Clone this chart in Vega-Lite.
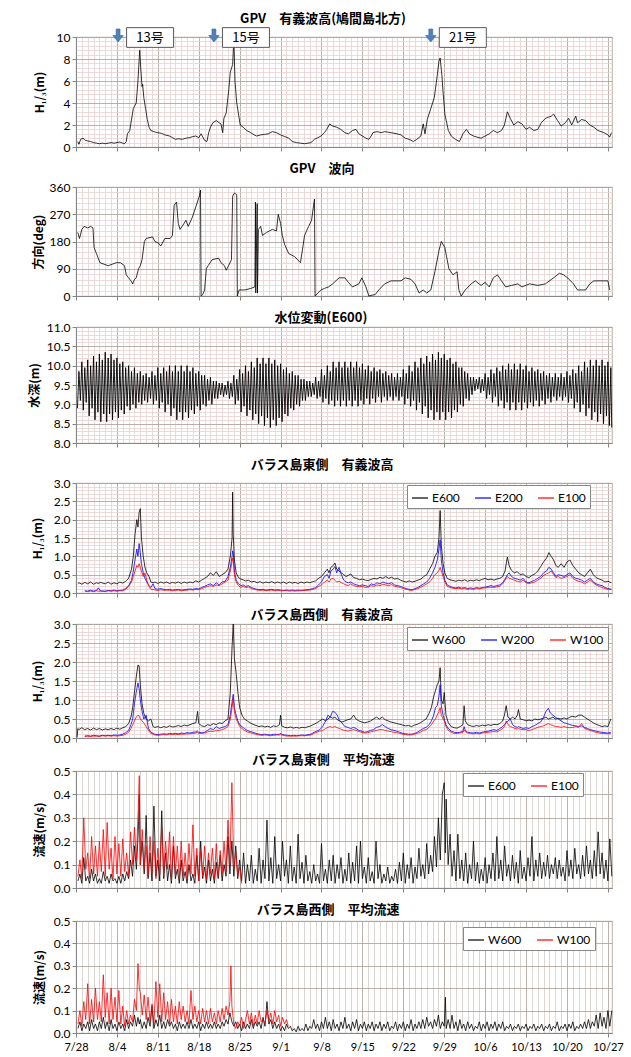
{
"$schema":"https://vega.github.io/schema/vega-lite/v6.json",
"background":"#ffffff",
"padding":{"left":27,"top":12,"right":5,"bottom":0},
"spacing":8,
"config":{
 "view":{"stroke":"#a89e96","strokeWidth":0.8},
 "title":{"font":"Noto Sans CJK JP","fontSize":13,"fontWeight":"bold","color":"#000","frame":"bounds","anchor":"middle"},
 "axis":{"labelFont":"Lato","labelFontSize":12,"labelColor":"#000","titleFont":"Noto Sans CJK JP","titleFontSize":12,"titleFontWeight":"bold","titleColor":"#000","domainColor":"#868686","tickColor":"#868686","gridWidth":0.8,"labelOverlap":false,"labelFlush":false},
 "legend":{"labelFont":"Lato","labelFontSize":12,"labelColor":"#000","symbolType":"stroke","symbolSize":256,"symbolStrokeWidth":1.2,"fillColor":"#ffffff","strokeColor":"#888888","padding":4,"columnPadding":12,"labelOffset":3,"direction":"horizontal","orient":"none","title":null}
},
"resolve":{"scale":{"x":"independent","y":"independent","color":"independent"},"legend":{"color":"independent"}},
"datasets":{
"ty":[{"d":7.2,"n":"13号"},{"d":23.6,"n":"15号"},{"d":60.7,"n":"21号"}],
"h":[{"d":0.3,"v":0.5},{"d":0.5,"v":0.25},{"d":0.8,"v":0.7},{"d":1.2,"v":0.8},{"d":1.6,"v":0.6},{"d":2,"v":0.55},{"d":2.5,"v":0.5},{"d":3,"v":0.4},{"d":3.5,"v":0.35},{"d":4,"v":0.3},{"d":4.5,"v":0.35},{"d":5,"v":0.3},{"d":5.5,"v":0.35},{"d":6,"v":0.4},{"d":6.5,"v":0.35},{"d":7,"v":0.4},{"d":7.5,"v":0.45},{"d":8,"v":0.35},{"d":8.3,"v":0.3},{"d":8.6,"v":0.5},{"d":8.8,"v":1.2},{"d":9.2,"v":1.5},{"d":9.8,"v":3.5},{"d":10.3,"v":4},{"d":10.6,"v":6},{"d":10.9,"v":8.8},{"d":11.1,"v":7},{"d":11.3,"v":5.5},{"d":11.4,"v":5.7},{"d":11.6,"v":4.5},{"d":11.9,"v":3.5},{"d":12.2,"v":2.5},{"d":12.5,"v":1.8},{"d":12.8,"v":1.5},{"d":13.3,"v":1.4},{"d":14,"v":1.3},{"d":14.6,"v":1.25},{"d":15.2,"v":1.1},{"d":16,"v":1},{"d":16.5,"v":0.85},{"d":17,"v":0.7},{"d":17.6,"v":0.75},{"d":18.2,"v":0.7},{"d":18.8,"v":0.8},{"d":19.4,"v":0.85},{"d":20,"v":0.95},{"d":20.5,"v":1},{"d":21,"v":0.85},{"d":21.4,"v":1.2},{"d":21.7,"v":0.9},{"d":22,"v":0.6},{"d":22.4,"v":0.5},{"d":22.7,"v":1.3},{"d":23,"v":1.8},{"d":23.4,"v":2.2},{"d":24,"v":2.4},{"d":24.5,"v":2.2},{"d":24.8,"v":2.1},{"d":25.1,"v":1.3},{"d":25.3,"v":2.6},{"d":25.7,"v":3.1},{"d":26.1,"v":5},{"d":26.4,"v":6.8},{"d":26.8,"v":7.5},{"d":27,"v":9.8},{"d":27.2,"v":6},{"d":27.5,"v":4},{"d":27.8,"v":3},{"d":28.1,"v":2},{"d":28.6,"v":1.8},{"d":29.2,"v":1.5},{"d":29.9,"v":1.3},{"d":30.5,"v":1.1},{"d":30.9,"v":1},{"d":31.6,"v":1.1},{"d":32.3,"v":1.15},{"d":32.9,"v":1.2},{"d":33.6,"v":1.4},{"d":34.3,"v":1.3},{"d":35,"v":1.1},{"d":35.7,"v":0.95},{"d":36.4,"v":0.8},{"d":37,"v":0.5},{"d":37.7,"v":0.4},{"d":38.4,"v":0.35},{"d":39.1,"v":0.3},{"d":39.7,"v":0.35},{"d":40.2,"v":0.4},{"d":40.8,"v":0.7},{"d":41.4,"v":0.85},{"d":41.9,"v":1},{"d":42.5,"v":1.3},{"d":42.9,"v":1.6},{"d":43.4,"v":2.1},{"d":43.9,"v":1.9},{"d":44.6,"v":1.8},{"d":45.3,"v":1.6},{"d":46,"v":1.3},{"d":46.6,"v":1.2},{"d":47.3,"v":1.5},{"d":47.9,"v":1.6},{"d":48.4,"v":1.2},{"d":49,"v":1},{"d":49.6,"v":0.8},{"d":50.1,"v":0.7},{"d":50.5,"v":1},{"d":50.8,"v":1.3},{"d":51.5,"v":1.4},{"d":52.2,"v":1.3},{"d":52.8,"v":1.4},{"d":53.4,"v":1.35},{"d":53.9,"v":1.3},{"d":54.9,"v":1.2},{"d":55.6,"v":1.1},{"d":56.3,"v":0.8},{"d":57,"v":0.7},{"d":57.7,"v":0.5},{"d":58.3,"v":0.7},{"d":59,"v":1},{"d":59.4,"v":2.1},{"d":59.7,"v":1.2},{"d":60.1,"v":2.5},{"d":60.7,"v":3.5},{"d":61.3,"v":4.5},{"d":61.8,"v":6.5},{"d":62.1,"v":7.8},{"d":62.3,"v":8.1},{"d":62.6,"v":6.5},{"d":62.8,"v":5},{"d":63.1,"v":3},{"d":63.7,"v":1.5},{"d":64.2,"v":1},{"d":64.9,"v":0.7},{"d":65.6,"v":0.5},{"d":66.2,"v":1.2},{"d":66.8,"v":1.6},{"d":67.3,"v":1.2},{"d":68,"v":1},{"d":68.6,"v":0.9},{"d":69.3,"v":0.8},{"d":70,"v":1},{"d":70.7,"v":1.2},{"d":71.4,"v":1.5},{"d":72.1,"v":1.3},{"d":72.8,"v":1.5},{"d":73.3,"v":2},{"d":73.8,"v":3.2},{"d":74.3,"v":2.6},{"d":74.9,"v":2},{"d":75.6,"v":2.3},{"d":76.3,"v":2.1},{"d":77,"v":1.6},{"d":77.6,"v":1.8},{"d":78.3,"v":1.5},{"d":79,"v":1.6},{"d":79.6,"v":2.2},{"d":80.3,"v":2.6},{"d":80.8,"v":2.7},{"d":81.3,"v":2.8},{"d":81.7,"v":3},{"d":82.4,"v":2.4},{"d":83,"v":1.9},{"d":83.7,"v":2.2},{"d":84.3,"v":2.6},{"d":84.8,"v":2},{"d":85.5,"v":2.8},{"d":85.8,"v":2.2},{"d":86.5,"v":2.5},{"d":87.2,"v":2.4},{"d":87.9,"v":2},{"d":88.6,"v":1.8},{"d":89.3,"v":1.5},{"d":90.3,"v":1.3},{"d":91,"v":1.1},{"d":91.3,"v":0.9},{"d":91.6,"v":1.3}],
"w":[{"d":0.3,"v":210},{"d":0.6,"v":190},{"d":1,"v":220},{"d":1.4,"v":230},{"d":2,"v":225},{"d":2.5,"v":230},{"d":2.9,"v":225},{"d":3.1,"v":160},{"d":3.5,"v":140},{"d":4.1,"v":110},{"d":4.8,"v":105},{"d":5.5,"v":100},{"d":6.2,"v":105},{"d":6.9,"v":110},{"d":7.6,"v":110},{"d":8.3,"v":100},{"d":8.6,"v":70},{"d":9,"v":60},{"d":9.4,"v":50},{"d":9.7,"v":40},{"d":10,"v":55},{"d":10.3,"v":60},{"d":10.7,"v":90},{"d":11,"v":100},{"d":11.3,"v":120},{"d":11.7,"v":180},{"d":12,"v":190},{"d":13.1,"v":195},{"d":13.5,"v":180},{"d":14.1,"v":175},{"d":14.5,"v":165},{"d":15.2,"v":190},{"d":16.1,"v":190},{"d":16.5,"v":200},{"d":16.8,"v":300},{"d":17.2,"v":310},{"d":17.5,"v":240},{"d":17.8,"v":220},{"d":18.5,"v":240},{"d":18.8,"v":250},{"d":19.2,"v":230},{"d":19.9,"v":260},{"d":20.6,"v":300},{"d":21.1,"v":330},{"d":21.3,"v":350},{"d":21.4,"v":0},{"d":21.7,"v":5},{"d":22,"v":20},{"d":22.3,"v":90},{"d":22.6,"v":100},{"d":23.3,"v":120},{"d":24.4,"v":125},{"d":24.8,"v":110},{"d":25.4,"v":100},{"d":25.7,"v":85},{"d":26.1,"v":100},{"d":26.6,"v":120},{"d":26.8,"v":330},{"d":27.1,"v":340},{"d":27.5,"v":335},{"d":27.6,"v":0},{"d":27.9,"v":20},{"d":28.9,"v":20},{"d":29.9,"v":25},{"d":30.6,"v":30},{"d":30.7,"v":310},{"d":30.75,"v":10},{"d":31,"v":305},{"d":31.05,"v":10},{"d":31.2,"v":220},{"d":31.6,"v":230},{"d":31.9,"v":200},{"d":32.6,"v":210},{"d":33.6,"v":220},{"d":34.3,"v":215},{"d":34.6,"v":270},{"d":35,"v":240},{"d":35.3,"v":200},{"d":35.7,"v":170},{"d":36.4,"v":140},{"d":37.4,"v":130},{"d":38.4,"v":110},{"d":38.8,"v":160},{"d":39.1,"v":200},{"d":39.8,"v":230},{"d":40.3,"v":250},{"d":40.8,"v":320},{"d":40.9,"v":0},{"d":41.4,"v":10},{"d":41.9,"v":20},{"d":42.5,"v":25},{"d":43.2,"v":30},{"d":43.9,"v":40},{"d":45,"v":60},{"d":46,"v":60},{"d":46.6,"v":45},{"d":47.3,"v":30},{"d":48.4,"v":40},{"d":48.9,"v":60},{"d":49.6,"v":30},{"d":50.1,"v":0},{"d":51.2,"v":5},{"d":51.8,"v":20},{"d":52.8,"v":40},{"d":53.9,"v":50},{"d":55.6,"v":50},{"d":56.3,"v":60},{"d":57.3,"v":55},{"d":58,"v":40},{"d":58.7,"v":10},{"d":59.4,"v":20},{"d":60,"v":10},{"d":60.7,"v":20},{"d":61.4,"v":80},{"d":62.1,"v":150},{"d":62.5,"v":180},{"d":63.1,"v":160},{"d":63.8,"v":90},{"d":64.5,"v":70},{"d":65.2,"v":80},{"d":65.5,"v":20},{"d":65.9,"v":0},{"d":66.6,"v":20},{"d":67.6,"v":40},{"d":68.3,"v":50},{"d":69.3,"v":35},{"d":70,"v":45},{"d":70.7,"v":30},{"d":71.4,"v":60},{"d":72.1,"v":70},{"d":72.8,"v":50},{"d":73.5,"v":30},{"d":74.5,"v":35},{"d":75.6,"v":40},{"d":76.3,"v":30},{"d":77.6,"v":40},{"d":79,"v":35},{"d":80.3,"v":40},{"d":81.7,"v":60},{"d":82.7,"v":75},{"d":83.4,"v":70},{"d":84.1,"v":60},{"d":85.1,"v":40},{"d":85.8,"v":20},{"d":87.2,"v":20},{"d":87.9,"v":40},{"d":88.6,"v":50},{"d":91,"v":50},{"d":91.3,"v":20}],
"t":[{"d":0.25,"v":8.9},{"d":0.5,"v":9.85},{"d":0.75,"v":9.1},{"d":1,"v":10.1},{"d":1.25,"v":8.85},{"d":1.5,"v":9.95},{"d":1.75,"v":9.05},{"d":2,"v":10.15},{"d":2.25,"v":8.7},{"d":2.5,"v":10},{"d":2.75,"v":8.9},{"d":3,"v":10.25},{"d":3.25,"v":8.6},{"d":3.5,"v":10.1},{"d":3.75,"v":8.8},{"d":4,"v":10.3},{"d":4.25,"v":8.55},{"d":4.5,"v":10.15},{"d":4.75,"v":8.75},{"d":5,"v":10.35},{"d":5.25,"v":8.55},{"d":5.5,"v":10.2},{"d":5.75,"v":8.75},{"d":6,"v":10.3},{"d":6.25,"v":8.6},{"d":6.5,"v":10.15},{"d":6.75,"v":8.8},{"d":7,"v":10.2},{"d":7.25,"v":8.65},{"d":7.5,"v":10.05},{"d":7.75,"v":8.85},{"d":8,"v":10.1},{"d":8.25,"v":8.75},{"d":8.5,"v":9.95},{"d":8.75,"v":8.95},{"d":9,"v":10},{"d":9.25,"v":8.85},{"d":9.5,"v":9.85},{"d":9.75,"v":9},{"d":10,"v":9.95},{"d":10.25,"v":8.9},{"d":10.5,"v":9.8},{"d":10.75,"v":9.05},{"d":11,"v":9.85},{"d":11.25,"v":9},{"d":11.5,"v":9.75},{"d":11.75,"v":9.1},{"d":12,"v":9.8},{"d":12.25,"v":9.05},{"d":12.5,"v":9.7},{"d":12.75,"v":9.15},{"d":13,"v":9.85},{"d":13.25,"v":9},{"d":13.5,"v":9.75},{"d":13.75,"v":9.1},{"d":14,"v":9.95},{"d":14.25,"v":8.9},{"d":14.5,"v":9.8},{"d":14.75,"v":9.05},{"d":15,"v":9.95},{"d":15.25,"v":8.8},{"d":15.5,"v":9.85},{"d":15.75,"v":9},{"d":16,"v":10},{"d":16.25,"v":8.7},{"d":16.5,"v":9.85},{"d":16.75,"v":8.9},{"d":17,"v":10},{"d":17.25,"v":8.6},{"d":17.5,"v":9.85},{"d":17.75,"v":8.8},{"d":18,"v":10},{"d":18.25,"v":8.6},{"d":18.5,"v":9.85},{"d":18.75,"v":8.8},{"d":19,"v":10},{"d":19.25,"v":8.65},{"d":19.5,"v":9.85},{"d":19.75,"v":8.85},{"d":20,"v":9.95},{"d":20.25,"v":8.75},{"d":20.5,"v":9.8},{"d":20.75,"v":8.95},{"d":21,"v":9.85},{"d":21.25,"v":8.85},{"d":21.5,"v":9.75},{"d":21.75,"v":9},{"d":22,"v":9.75},{"d":22.25,"v":8.95},{"d":22.5,"v":9.65},{"d":22.75,"v":9.1},{"d":23,"v":9.7},{"d":23.25,"v":9},{"d":23.5,"v":9.6},{"d":23.75,"v":9.15},{"d":24,"v":9.6},{"d":24.25,"v":9.15},{"d":24.5,"v":9.55},{"d":24.75,"v":9.25},{"d":25,"v":9.55},{"d":25.25,"v":9.2},{"d":25.5,"v":9.5},{"d":25.75,"v":9.25},{"d":26,"v":9.6},{"d":26.25,"v":9.15},{"d":26.5,"v":9.55},{"d":26.75,"v":9.2},{"d":27,"v":9.75},{"d":27.25,"v":9},{"d":27.5,"v":9.65},{"d":27.75,"v":9.1},{"d":28,"v":9.9},{"d":28.25,"v":8.8},{"d":28.5,"v":9.8},{"d":28.75,"v":8.95},{"d":29,"v":10},{"d":29.25,"v":8.7},{"d":29.5,"v":9.85},{"d":29.75,"v":8.85},{"d":30,"v":10.1},{"d":30.25,"v":8.6},{"d":30.5,"v":9.95},{"d":30.75,"v":8.75},{"d":31,"v":10.2},{"d":31.25,"v":8.5},{"d":31.5,"v":10.05},{"d":31.75,"v":8.7},{"d":32,"v":10.2},{"d":32.25,"v":8.45},{"d":32.5,"v":10.05},{"d":32.75,"v":8.65},{"d":33,"v":10.2},{"d":33.25,"v":8.4},{"d":33.5,"v":10.05},{"d":33.75,"v":8.6},{"d":34,"v":10.15},{"d":34.25,"v":8.45},{"d":34.5,"v":10},{"d":34.75,"v":8.65},{"d":35,"v":10.05},{"d":35.25,"v":8.55},{"d":35.5,"v":9.9},{"d":35.75,"v":8.75},{"d":36,"v":9.95},{"d":36.25,"v":8.7},{"d":36.5,"v":9.8},{"d":36.75,"v":8.9},{"d":37,"v":9.85},{"d":37.25,"v":8.85},{"d":37.5,"v":9.75},{"d":37.75,"v":9},{"d":38,"v":9.75},{"d":38.25,"v":8.95},{"d":38.5,"v":9.65},{"d":38.75,"v":9.1},{"d":39,"v":9.65},{"d":39.25,"v":9.1},{"d":39.5,"v":9.6},{"d":39.75,"v":9.2},{"d":40,"v":9.6},{"d":40.25,"v":9.2},{"d":40.5,"v":9.55},{"d":40.75,"v":9.25},{"d":41,"v":9.7},{"d":41.25,"v":9.15},{"d":41.5,"v":9.6},{"d":41.75,"v":9.2},{"d":42,"v":9.9},{"d":42.25,"v":9.05},{"d":42.5,"v":9.75},{"d":42.75,"v":9.15},{"d":43,"v":10},{"d":43.25,"v":9},{"d":43.5,"v":9.85},{"d":43.75,"v":9.1},{"d":44,"v":10.1},{"d":44.25,"v":8.95},{"d":44.5,"v":9.95},{"d":44.75,"v":9.1},{"d":45,"v":10.1},{"d":45.25,"v":8.95},{"d":45.5,"v":9.95},{"d":45.75,"v":9.1},{"d":46,"v":10.1},{"d":46.25,"v":8.95},{"d":46.5,"v":9.95},{"d":46.75,"v":9.1},{"d":47,"v":10.1},{"d":47.25,"v":8.95},{"d":47.5,"v":9.95},{"d":47.75,"v":9.1},{"d":48,"v":10.1},{"d":48.25,"v":8.95},{"d":48.5,"v":9.95},{"d":48.75,"v":9.1},{"d":49,"v":10.05},{"d":49.25,"v":9},{"d":49.5,"v":9.9},{"d":49.75,"v":9.15},{"d":50,"v":10},{"d":50.25,"v":9},{"d":50.5,"v":9.85},{"d":50.75,"v":9.15},{"d":51,"v":9.95},{"d":51.25,"v":9.05},{"d":51.5,"v":9.85},{"d":51.75,"v":9.2},{"d":52,"v":9.9},{"d":52.25,"v":9.05},{"d":52.5,"v":9.8},{"d":52.75,"v":9.2},{"d":53,"v":9.85},{"d":53.25,"v":9.1},{"d":53.5,"v":9.75},{"d":53.75,"v":9.2},{"d":54,"v":9.8},{"d":54.25,"v":9.1},{"d":54.5,"v":9.7},{"d":54.75,"v":9.2},{"d":55,"v":9.8},{"d":55.25,"v":9.1},{"d":55.5,"v":9.7},{"d":55.75,"v":9.2},{"d":56,"v":9.9},{"d":56.25,"v":9},{"d":56.5,"v":9.8},{"d":56.75,"v":9.15},{"d":57,"v":10},{"d":57.25,"v":8.95},{"d":57.5,"v":9.85},{"d":57.75,"v":9.1},{"d":58,"v":10.1},{"d":58.25,"v":8.85},{"d":58.5,"v":9.95},{"d":58.75,"v":9.05},{"d":59,"v":10.2},{"d":59.25,"v":8.75},{"d":59.5,"v":10.05},{"d":59.75,"v":8.95},{"d":60,"v":10.25},{"d":60.25,"v":8.65},{"d":60.5,"v":10.1},{"d":60.75,"v":8.85},{"d":61,"v":10.3},{"d":61.25,"v":8.6},{"d":61.5,"v":10.15},{"d":61.75,"v":8.8},{"d":62,"v":10.35},{"d":62.25,"v":8.6},{"d":62.5,"v":10.2},{"d":62.75,"v":8.8},{"d":63,"v":10.3},{"d":63.25,"v":8.6},{"d":63.5,"v":10.15},{"d":63.75,"v":8.8},{"d":64,"v":10.2},{"d":64.25,"v":8.65},{"d":64.5,"v":10.05},{"d":64.75,"v":8.85},{"d":65,"v":10.1},{"d":65.25,"v":8.8},{"d":65.5,"v":9.95},{"d":65.75,"v":9},{"d":66,"v":9.95},{"d":66.25,"v":8.95},{"d":66.5,"v":9.85},{"d":66.75,"v":9.15},{"d":67,"v":9.8},{"d":67.25,"v":9.1},{"d":67.5,"v":9.7},{"d":67.75,"v":9.25},{"d":68,"v":9.7},{"d":68.25,"v":9.35},{"d":68.5,"v":9.65},{"d":68.75,"v":9.4},{"d":69,"v":9.7},{"d":69.25,"v":9.3},{"d":69.5,"v":9.65},{"d":69.75,"v":9.35},{"d":70,"v":9.8},{"d":70.25,"v":9.15},{"d":70.5,"v":9.7},{"d":70.75,"v":9.25},{"d":71,"v":9.9},{"d":71.25,"v":9.05},{"d":71.5,"v":9.8},{"d":71.75,"v":9.2},{"d":72,"v":9.95},{"d":72.25,"v":8.95},{"d":72.5,"v":9.85},{"d":72.75,"v":9.1},{"d":73,"v":10},{"d":73.25,"v":8.9},{"d":73.5,"v":9.9},{"d":73.75,"v":9.05},{"d":74,"v":10.05},{"d":74.25,"v":8.85},{"d":74.5,"v":9.9},{"d":74.75,"v":9.05},{"d":75,"v":10.05},{"d":75.25,"v":8.85},{"d":75.5,"v":9.9},{"d":75.75,"v":9.05},{"d":76,"v":10.05},{"d":76.25,"v":8.85},{"d":76.5,"v":9.9},{"d":76.75,"v":9.05},{"d":77,"v":10},{"d":77.25,"v":8.9},{"d":77.5,"v":9.85},{"d":77.75,"v":9.05},{"d":78,"v":9.95},{"d":78.25,"v":8.95},{"d":78.5,"v":9.85},{"d":78.75,"v":9.1},{"d":79,"v":9.9},{"d":79.25,"v":8.95},{"d":79.5,"v":9.8},{"d":79.75,"v":9.1},{"d":80,"v":9.85},{"d":80.25,"v":9},{"d":80.5,"v":9.75},{"d":80.75,"v":9.15},{"d":81,"v":9.8},{"d":81.25,"v":9.05},{"d":81.5,"v":9.7},{"d":81.75,"v":9.2},{"d":82,"v":9.8},{"d":82.25,"v":9.1},{"d":82.5,"v":9.7},{"d":82.75,"v":9.2},{"d":83,"v":9.8},{"d":83.25,"v":9.1},{"d":83.5,"v":9.7},{"d":83.75,"v":9.2},{"d":84,"v":9.85},{"d":84.25,"v":9.05},{"d":84.5,"v":9.75},{"d":84.75,"v":9.15},{"d":85,"v":9.9},{"d":85.25,"v":8.9},{"d":85.5,"v":9.8},{"d":85.75,"v":9.05},{"d":86,"v":10},{"d":86.25,"v":8.8},{"d":86.5,"v":9.85},{"d":86.75,"v":9},{"d":87,"v":10.1},{"d":87.25,"v":8.7},{"d":87.5,"v":9.95},{"d":87.75,"v":8.9},{"d":88,"v":10.15},{"d":88.25,"v":8.6},{"d":88.5,"v":10},{"d":88.75,"v":8.8},{"d":89,"v":10.15},{"d":89.25,"v":8.55},{"d":89.5,"v":10},{"d":89.75,"v":8.75},{"d":90,"v":10.15},{"d":90.25,"v":8.5},{"d":90.5,"v":10},{"d":90.75,"v":8.7},{"d":91,"v":10.1},{"d":91.25,"v":8.45},{"d":91.5,"v":9.95},{"d":91.65,"v":8.4}],
"e":[{"d":0.3,"E600":0.25},{"d":0.5,"E600":0.28},{"d":1,"E600":0.24},{"d":1.5,"E600":0.29,"E200":0.06,"E100":0.05},{"d":2,"E600":0.25,"E200":0.05,"E100":0.04},{"d":2.5,"E600":0.3,"E200":0.08,"E100":0.05},{"d":3,"E600":0.24,"E200":0.05,"E100":0.04},{"d":3.5,"E600":0.28,"E200":0.07,"E100":0.06},{"d":3.8,"E600":0.26,"E200":0.14,"E100":0.05},{"d":4.2,"E600":0.29,"E200":0.06,"E100":0.05},{"d":5,"E600":0.25,"E200":0.05,"E100":0.04},{"d":5.5,"E600":0.3,"E200":0.07,"E100":0.06},{"d":6,"E600":0.24,"E200":0.06,"E100":0.05},{"d":6.5,"E600":0.28,"E200":0.08,"E100":0.06},{"d":7,"E600":0.25,"E200":0.06,"E100":0.05},{"d":7.5,"E600":0.3,"E200":0.07,"E100":0.06},{"d":8,"E600":0.27,"E200":0.08,"E100":0.06},{"d":8.5,"E600":0.32,"E200":0.12,"E100":0.1},{"d":9,"E600":0.4,"E200":0.2,"E100":0.18},{"d":9.5,"E600":0.65,"E200":0.35,"E100":0.3},{"d":9.8,"E600":1,"E200":0.6,"E100":0.45},{"d":10.1,"E600":1.6,"E200":0.9,"E100":0.6},{"d":10.4,"E600":2,"E200":1.2,"E100":0.75},{"d":10.6,"E600":1.8,"E200":1,"E100":0.7},{"d":10.8,"E600":2.2,"E200":1.35,"E100":0.8},{"d":11,"E600":2.3,"E200":1.1,"E100":0.7},{"d":11.2,"E600":1.5,"E200":0.8,"E100":0.6},{"d":11.5,"E600":1,"E200":0.55,"E100":0.45},{"d":11.8,"E600":0.7,"E200":0.4,"E100":0.55},{"d":12.1,"E600":0.55,"E200":0.3,"E100":0.35},{"d":12.5,"E600":0.45,"E200":0.2,"E100":0.18},{"d":12.8,"E600":0.3,"E200":0.15,"E100":0.1},{"d":13.2,"E600":0.28,"E200":0.25,"E100":0.1},{"d":13.5,"E600":0.3,"E200":0.12,"E100":0.08},{"d":14,"E600":0.26,"E200":0.1,"E100":0.07},{"d":14.5,"E600":0.3,"E200":0.12,"E100":0.09},{"d":15,"E600":0.27,"E200":0.1,"E100":0.07},{"d":15.5,"E600":0.3,"E200":0.09,"E100":0.08},{"d":16,"E600":0.26,"E200":0.1,"E100":0.07},{"d":16.5,"E600":0.29,"E200":0.08,"E100":0.06},{"d":17,"E600":0.27,"E200":0.09,"E100":0.07},{"d":17.5,"E600":0.3,"E200":0.1,"E100":0.08},{"d":18,"E600":0.26,"E200":0.08,"E100":0.06},{"d":18.5,"E600":0.3,"E200":0.09,"E100":0.07},{"d":19,"E600":0.27,"E200":0.1,"E100":0.08},{"d":19.5,"E600":0.3,"E200":0.11,"E100":0.09},{"d":20,"E600":0.28,"E200":0.1,"E100":0.08},{"d":20.5,"E600":0.33,"E200":0.12,"E100":0.1},{"d":21,"E600":0.3,"E200":0.11,"E100":0.09},{"d":21.5,"E600":0.35,"E200":0.15,"E100":0.12},{"d":22,"E600":0.4,"E200":0.18,"E100":0.15},{"d":22.5,"E600":0.45,"E200":0.22,"E100":0.18},{"d":23,"E600":0.55,"E200":0.25,"E100":0.2},{"d":23.5,"E600":0.48,"E200":0.2,"E100":0.18},{"d":24,"E600":0.58,"E200":0.28,"E100":0.22},{"d":24.5,"E600":0.45,"E200":0.22,"E100":0.2},{"d":25,"E600":0.5,"E200":0.3,"E100":0.25},{"d":25.5,"E600":0.55,"E200":0.32,"E100":0.3},{"d":26,"E600":0.65,"E200":0.45,"E100":0.35},{"d":26.4,"E600":1,"E200":0.7,"E100":0.6},{"d":26.7,"E600":1.5,"E200":1,"E100":0.85},{"d":26.8,"E600":2.75,"E200":1.15,"E100":0.95},{"d":26.9,"E600":1.6,"E200":1.1,"E100":0.9},{"d":27.1,"E600":0.9,"E200":0.6,"E100":0.5},{"d":27.4,"E600":0.55,"E200":0.35,"E100":0.3},{"d":27.8,"E600":0.42,"E200":0.25,"E100":0.2},{"d":28.2,"E600":0.38,"E200":0.2,"E100":0.15},{"d":28.6,"E600":0.36,"E200":0.22,"E100":0.18},{"d":29,"E600":0.33,"E200":0.18,"E100":0.15},{"d":29.5,"E600":0.35,"E200":0.2,"E100":0.16},{"d":30,"E600":0.3,"E200":0.15,"E100":0.12},{"d":30.5,"E600":0.32,"E200":0.12,"E100":0.1},{"d":31,"E600":0.28,"E200":0.1,"E100":0.08},{"d":31.5,"E600":0.31,"E200":0.09,"E100":0.07},{"d":32,"E600":0.27,"E200":0.1,"E100":0.08},{"d":32.5,"E600":0.3,"E200":0.08,"E100":0.06},{"d":33,"E600":0.28,"E200":0.09,"E100":0.07},{"d":33.5,"E600":0.31,"E200":0.1,"E100":0.08},{"d":34,"E600":0.27,"E200":0.08,"E100":0.06},{"d":34.5,"E600":0.3,"E200":0.09,"E100":0.07},{"d":35,"E600":0.27,"E200":0.08,"E100":0.06},{"d":35.5,"E600":0.3,"E200":0.07,"E100":0.06},{"d":36,"E600":0.26,"E200":0.08,"E100":0.07},{"d":36.5,"E600":0.3,"E200":0.07,"E100":0.05},{"d":37,"E600":0.27,"E200":0.08,"E100":0.06},{"d":37.5,"E600":0.29,"E200":0.07,"E100":0.05},{"d":38,"E600":0.26,"E200":0.08,"E100":0.06},{"d":38.5,"E600":0.3,"E200":0.07,"E100":0.06},{"d":39,"E600":0.27,"E200":0.08,"E100":0.07},{"d":39.5,"E600":0.3,"E200":0.09,"E100":0.07},{"d":40,"E600":0.28,"E200":0.1,"E100":0.08},{"d":40.5,"E600":0.31,"E200":0.12,"E100":0.1},{"d":41,"E600":0.33,"E200":0.15,"E100":0.12},{"d":41.5,"E600":0.4,"E200":0.22,"E100":0.18},{"d":42,"E600":0.45,"E200":0.3,"E100":0.22},{"d":42.5,"E600":0.55,"E200":0.45,"E100":0.3},{"d":43,"E600":0.65,"E200":0.5,"E100":0.35},{"d":43.3,"E600":0.55,"E200":0.4,"E100":0.3},{"d":43.6,"E600":0.7,"E200":0.6,"E100":0.38},{"d":44,"E600":0.75,"E200":0.65,"E100":0.4},{"d":44.3,"E600":0.82,"E200":0.72,"E100":0.35},{"d":44.6,"E600":0.65,"E200":0.55,"E100":0.3},{"d":45,"E600":0.6,"E200":0.7,"E100":0.32},{"d":45.4,"E600":0.55,"E200":0.5,"E100":0.28},{"d":45.8,"E600":0.5,"E200":0.35,"E100":0.25},{"d":46.2,"E600":0.45,"E200":0.3,"E100":0.22},{"d":46.6,"E600":0.48,"E200":0.28,"E100":0.2},{"d":47,"E600":0.52,"E200":0.3,"E100":0.25},{"d":47.5,"E600":0.42,"E200":0.25,"E100":0.2},{"d":48,"E600":0.4,"E200":0.22,"E100":0.18},{"d":48.5,"E600":0.36,"E200":0.2,"E100":0.17},{"d":49,"E600":0.38,"E200":0.22,"E100":0.18},{"d":49.5,"E600":0.35,"E200":0.2,"E100":0.15},{"d":50,"E600":0.34,"E200":0.18,"E100":0.16},{"d":50.5,"E600":0.37,"E200":0.25,"E100":0.2},{"d":51,"E600":0.4,"E200":0.22,"E100":0.18},{"d":51.5,"E600":0.38,"E200":0.28,"E100":0.22},{"d":52,"E600":0.43,"E200":0.25,"E100":0.2},{"d":52.5,"E600":0.4,"E200":0.3,"E100":0.24},{"d":53,"E600":0.45,"E200":0.27,"E100":0.22},{"d":53.5,"E600":0.4,"E200":0.25,"E100":0.2},{"d":54,"E600":0.43,"E200":0.28,"E100":0.23},{"d":54.5,"E600":0.38,"E200":0.22,"E100":0.18},{"d":55,"E600":0.4,"E200":0.2,"E100":0.17},{"d":55.5,"E600":0.35,"E200":0.18,"E100":0.15},{"d":56,"E600":0.32,"E200":0.15,"E100":0.12},{"d":56.5,"E600":0.3,"E200":0.12,"E100":0.1},{"d":57,"E600":0.33,"E200":0.1,"E100":0.08},{"d":57.5,"E600":0.3,"E200":0.09,"E100":0.07},{"d":58,"E600":0.32,"E200":0.12,"E100":0.1},{"d":58.5,"E600":0.35,"E200":0.15,"E100":0.12},{"d":59,"E600":0.38,"E200":0.2,"E100":0.16},{"d":59.5,"E600":0.45,"E200":0.25,"E100":0.2},{"d":60,"E600":0.5,"E200":0.3,"E100":0.25},{"d":60.5,"E600":0.65,"E200":0.4,"E100":0.3},{"d":61,"E600":0.8,"E200":0.55,"E100":0.4},{"d":61.4,"E600":1,"E200":0.7,"E100":0.5},{"d":61.8,"E600":1.1,"E200":0.9,"E100":0.55},{"d":62.1,"E600":1.5,"E200":1.2,"E100":0.62},{"d":62.3,"E600":2.25,"E200":1.45,"E100":0.7},{"d":62.5,"E600":1.3,"E200":0.9,"E100":0.6},{"d":62.8,"E600":0.8,"E200":0.55,"E100":0.45},{"d":63.1,"E600":0.55,"E200":0.35,"E100":0.3},{"d":63.5,"E600":0.4,"E200":0.22,"E100":0.18},{"d":64,"E600":0.36,"E200":0.18,"E100":0.15},{"d":64.5,"E600":0.34,"E200":0.15,"E100":0.13},{"d":65,"E600":0.32,"E200":0.14,"E100":0.12},{"d":65.5,"E600":0.35,"E200":0.16,"E100":0.13},{"d":66,"E600":0.33,"E200":0.13,"E100":0.11},{"d":66.5,"E600":0.36,"E200":0.15,"E100":0.12},{"d":67,"E600":0.32,"E200":0.12,"E100":0.1},{"d":67.5,"E600":0.35,"E200":0.14,"E100":0.11},{"d":68,"E600":0.33,"E200":0.12,"E100":0.1},{"d":68.5,"E600":0.36,"E200":0.15,"E100":0.12},{"d":69,"E600":0.34,"E200":0.13,"E100":0.11},{"d":69.5,"E600":0.37,"E200":0.15,"E100":0.13},{"d":70,"E600":0.4,"E200":0.16,"E100":0.14},{"d":70.5,"E600":0.36,"E200":0.18,"E100":0.15},{"d":71,"E600":0.38,"E200":0.2,"E100":0.16},{"d":71.5,"E600":0.35,"E200":0.18,"E100":0.15},{"d":72,"E600":0.38,"E200":0.2,"E100":0.17},{"d":72.5,"E600":0.4,"E200":0.22,"E100":0.18},{"d":73,"E600":0.45,"E200":0.28,"E100":0.25},{"d":73.4,"E600":0.6,"E200":0.38,"E100":0.35},{"d":73.8,"E600":0.98,"E200":0.5,"E100":0.45},{"d":74.1,"E600":0.75,"E200":0.55,"E100":0.4},{"d":74.5,"E600":0.62,"E200":0.45,"E100":0.38},{"d":75,"E600":0.55,"E200":0.4,"E100":0.35},{"d":75.5,"E600":0.58,"E200":0.38,"E100":0.32},{"d":76,"E600":0.5,"E200":0.35,"E100":0.3},{"d":76.5,"E600":0.52,"E200":0.4,"E100":0.35},{"d":77,"E600":0.45,"E200":0.3,"E100":0.28},{"d":77.5,"E600":0.42,"E200":0.28,"E100":0.25},{"d":78,"E600":0.48,"E200":0.32,"E100":0.28},{"d":78.5,"E600":0.52,"E200":0.35,"E100":0.3},{"d":79,"E600":0.6,"E200":0.4,"E100":0.35},{"d":79.5,"E600":0.72,"E200":0.45,"E100":0.4},{"d":80,"E600":0.85,"E200":0.55,"E100":0.48},{"d":80.5,"E600":0.95,"E200":0.6,"E100":0.52},{"d":80.9,"E600":1.1,"E200":0.7,"E100":0.55},{"d":81.3,"E600":1,"E200":0.65,"E100":0.6},{"d":81.7,"E600":0.9,"E200":0.55,"E100":0.5},{"d":82.1,"E600":0.75,"E200":0.45,"E100":0.42},{"d":82.5,"E600":0.7,"E200":0.5,"E100":0.45},{"d":83,"E600":0.8,"E200":0.48,"E100":0.4},{"d":83.5,"E600":0.7,"E200":0.45,"E100":0.42},{"d":84,"E600":0.85,"E200":0.5,"E100":0.45},{"d":84.5,"E600":0.9,"E200":0.55,"E100":0.5},{"d":85,"E600":0.75,"E200":0.45,"E100":0.4},{"d":85.5,"E600":0.65,"E200":0.4,"E100":0.35},{"d":86,"E600":0.55,"E200":0.38,"E100":0.32},{"d":86.5,"E600":0.5,"E200":0.35,"E100":0.3},{"d":87,"E600":0.45,"E200":0.3,"E100":0.25},{"d":87.5,"E600":0.55,"E200":0.35,"E100":0.3},{"d":88,"E600":0.65,"E200":0.4,"E100":0.35},{"d":88.5,"E600":0.5,"E200":0.3,"E100":0.28},{"d":89,"E600":0.42,"E200":0.25,"E100":0.22},{"d":89.5,"E600":0.38,"E200":0.22,"E100":0.18},{"d":90,"E600":0.35,"E200":0.2,"E100":0.15},{"d":90.5,"E600":0.3,"E200":0.15,"E100":0.12},{"d":91,"E600":0.32,"E200":0.12,"E100":0.1},{"d":91.6,"E600":0.28,"E200":0.1,"E100":0.1}],
"f":[{"d":0.2,"W600":0.02},{"d":0.3,"W600":0.25},{"d":0.5,"W600":0.22},{"d":1,"W600":0.27},{"d":1.5,"W600":0.22,"W200":0.05,"W100":0.04},{"d":2,"W600":0.25,"W200":0.06,"W100":0.05},{"d":2.5,"W600":0.21,"W200":0.05,"W100":0.04},{"d":3,"W600":0.26,"W200":0.07,"W100":0.05},{"d":3.5,"W600":0.22,"W200":0.06,"W100":0.05},{"d":4,"W600":0.25,"W200":0.05,"W100":0.04},{"d":4.5,"W600":0.21,"W200":0.07,"W100":0.06},{"d":5,"W600":0.24,"W200":0.06,"W100":0.05},{"d":5.5,"W600":0.22,"W200":0.07,"W100":0.06},{"d":6,"W600":0.25,"W200":0.06,"W100":0.05},{"d":6.5,"W600":0.22,"W200":0.08,"W100":0.06},{"d":7,"W600":0.26,"W200":0.07,"W100":0.05},{"d":7.5,"W600":0.23,"W200":0.08,"W100":0.06},{"d":8,"W600":0.27,"W200":0.1,"W100":0.07},{"d":8.5,"W600":0.3,"W200":0.14,"W100":0.1},{"d":9,"W600":0.38,"W200":0.2,"W100":0.15},{"d":9.4,"W600":0.55,"W200":0.35,"W100":0.25},{"d":9.7,"W600":0.8,"W200":0.5,"W100":0.35},{"d":10,"W600":1.2,"W200":0.9,"W100":0.45},{"d":10.3,"W600":1.6,"W200":1.2,"W100":0.55},{"d":10.6,"W600":1.92,"W200":1.45,"W100":0.6},{"d":10.8,"W600":1.9,"W200":1.3,"W100":0.58},{"d":11,"W600":1.4,"W200":1,"W100":0.5},{"d":11.3,"W600":0.9,"W200":0.7,"W100":0.45},{"d":11.6,"W600":0.65,"W200":0.5,"W100":0.4},{"d":12,"W600":0.5,"W200":0.6,"W100":0.3},{"d":12.4,"W600":0.45,"W200":0.25,"W100":0.2},{"d":12.8,"W600":0.5,"W200":0.15,"W100":0.12},{"d":13.2,"W600":0.3,"W200":0.12,"W100":0.1},{"d":13.5,"W600":0.28,"W200":0.1,"W100":0.08},{"d":14,"W600":0.3,"W200":0.09,"W100":0.07},{"d":14.5,"W600":0.27,"W200":0.1,"W100":0.08},{"d":15,"W600":0.3,"W200":0.11,"W100":0.09},{"d":15.5,"W600":0.28,"W200":0.1,"W100":0.08},{"d":16,"W600":0.32,"W200":0.12,"W100":0.1},{"d":16.5,"W600":0.29,"W200":0.11,"W100":0.09},{"d":17,"W600":0.3,"W200":0.12,"W100":0.1},{"d":17.5,"W600":0.33,"W200":0.11,"W100":0.09},{"d":18,"W600":0.3,"W200":0.13,"W100":0.1},{"d":18.5,"W600":0.34,"W200":0.12,"W100":0.1},{"d":19,"W600":0.32,"W200":0.14,"W100":0.11},{"d":19.5,"W600":0.35,"W200":0.13,"W100":0.11},{"d":20,"W600":0.38,"W200":0.15,"W100":0.12},{"d":20.5,"W600":0.4,"W200":0.16,"W100":0.13},{"d":20.8,"W600":0.7,"W200":0.18,"W100":0.15},{"d":21,"W600":0.38,"W200":0.15,"W100":0.12},{"d":21.5,"W600":0.32,"W200":0.14,"W100":0.12},{"d":22,"W600":0.3,"W200":0.15,"W100":0.13},{"d":22.5,"W600":0.35,"W200":0.2,"W100":0.16},{"d":23,"W600":0.33,"W200":0.25,"W100":0.18},{"d":23.5,"W600":0.38,"W200":0.22,"W100":0.17},{"d":24,"W600":0.35,"W200":0.3,"W100":0.2},{"d":24.5,"W600":0.4,"W200":0.25,"W100":0.2},{"d":25,"W600":0.38,"W200":0.28,"W100":0.22},{"d":25.5,"W600":0.45,"W200":0.3,"W100":0.25},{"d":26,"W600":0.5,"W200":0.35,"W100":0.3},{"d":26.4,"W600":1.2,"W200":0.6,"W100":0.5},{"d":26.7,"W600":2.4,"W200":0.95,"W100":0.8},{"d":26.9,"W600":3,"W200":1.15,"W100":1.05},{"d":27.1,"W600":2.1,"W200":0.8,"W100":0.7},{"d":27.4,"W600":1.7,"W200":0.6,"W100":0.5},{"d":27.7,"W600":1.2,"W200":0.45,"W100":0.4},{"d":28,"W600":0.8,"W200":0.35,"W100":0.3},{"d":28.4,"W600":0.6,"W200":0.3,"W100":0.25},{"d":28.8,"W600":0.5,"W200":0.25,"W100":0.2},{"d":29.3,"W600":0.45,"W200":0.2,"W100":0.16},{"d":29.8,"W600":0.4,"W200":0.17,"W100":0.14},{"d":30.3,"W600":0.36,"W200":0.15,"W100":0.12},{"d":30.8,"W600":0.33,"W200":0.12,"W100":0.1},{"d":31.3,"W600":0.3,"W200":0.1,"W100":0.08},{"d":31.8,"W600":0.32,"W200":0.09,"W100":0.07},{"d":32.3,"W600":0.29,"W200":0.1,"W100":0.08},{"d":32.8,"W600":0.31,"W200":0.09,"W100":0.07},{"d":33.3,"W600":0.28,"W200":0.08,"W100":0.06},{"d":33.8,"W600":0.32,"W200":0.1,"W100":0.07},{"d":34.3,"W600":0.3,"W200":0.09,"W100":0.08},{"d":34.8,"W600":0.35,"W200":0.1,"W100":0.08},{"d":35,"W600":0.6,"W200":0.12,"W100":0.1},{"d":35.2,"W600":0.32,"W200":0.1,"W100":0.08},{"d":35.7,"W600":0.28,"W200":0.08,"W100":0.06},{"d":36.2,"W600":0.27,"W200":0.07,"W100":0.05},{"d":36.7,"W600":0.29,"W200":0.06,"W100":0.05},{"d":37.2,"W600":0.26,"W200":0.07,"W100":0.05},{"d":37.7,"W600":0.28,"W200":0.06,"W100":0.05},{"d":38.2,"W600":0.26,"W200":0.07,"W100":0.06},{"d":38.7,"W600":0.28,"W200":0.08,"W100":0.06},{"d":39.2,"W600":0.27,"W200":0.07,"W100":0.06},{"d":39.7,"W600":0.3,"W200":0.09,"W100":0.07},{"d":40.2,"W600":0.32,"W200":0.1,"W100":0.08},{"d":40.7,"W600":0.36,"W200":0.15,"W100":0.12},{"d":41.2,"W600":0.4,"W200":0.18,"W100":0.15},{"d":41.7,"W600":0.45,"W200":0.22,"W100":0.18},{"d":42.2,"W600":0.5,"W200":0.3,"W100":0.2},{"d":42.7,"W600":0.45,"W200":0.45,"W100":0.25},{"d":43.1,"W600":0.5,"W200":0.6,"W100":0.28},{"d":43.5,"W600":0.55,"W200":0.55,"W100":0.3},{"d":43.9,"W600":0.52,"W200":0.7,"W100":0.28},{"d":44.3,"W600":0.55,"W200":0.68,"W100":0.3},{"d":44.7,"W600":0.48,"W200":0.6,"W100":0.27},{"d":45.1,"W600":0.45,"W200":0.45,"W100":0.25},{"d":45.5,"W600":0.42,"W200":0.4,"W100":0.22},{"d":46,"W600":0.45,"W200":0.3,"W100":0.2},{"d":46.5,"W600":0.48,"W200":0.28,"W100":0.18},{"d":47,"W600":0.5,"W200":0.25,"W100":0.2},{"d":47.5,"W600":0.6,"W200":0.28,"W100":0.22},{"d":47.9,"W600":0.5,"W200":0.25,"W100":0.2},{"d":48.4,"W600":0.45,"W200":0.2,"W100":0.17},{"d":48.9,"W600":0.42,"W200":0.18,"W100":0.15},{"d":49.4,"W600":0.4,"W200":0.15,"W100":0.13},{"d":49.9,"W600":0.42,"W200":0.17,"W100":0.14},{"d":50.4,"W600":0.45,"W200":0.2,"W100":0.16},{"d":50.9,"W600":0.5,"W200":0.22,"W100":0.18},{"d":51.4,"W600":0.55,"W200":0.28,"W100":0.2},{"d":51.9,"W600":0.5,"W200":0.3,"W100":0.22},{"d":52.4,"W600":0.55,"W200":0.35,"W100":0.22},{"d":52.9,"W600":0.48,"W200":0.3,"W100":0.2},{"d":53.4,"W600":0.45,"W200":0.25,"W100":0.18},{"d":53.9,"W600":0.42,"W200":0.22,"W100":0.17},{"d":54.4,"W600":0.4,"W200":0.2,"W100":0.15},{"d":54.9,"W600":0.38,"W200":0.18,"W100":0.14},{"d":55.4,"W600":0.36,"W200":0.15,"W100":0.12},{"d":55.9,"W600":0.34,"W200":0.12,"W100":0.1},{"d":56.4,"W600":0.32,"W200":0.11,"W100":0.09},{"d":56.9,"W600":0.33,"W200":0.1,"W100":0.08},{"d":57.4,"W600":0.3,"W200":0.1,"W100":0.08},{"d":57.9,"W600":0.34,"W200":0.12,"W100":0.1},{"d":58.4,"W600":0.36,"W200":0.15,"W100":0.12},{"d":58.9,"W600":0.4,"W200":0.2,"W100":0.15},{"d":59.4,"W600":0.45,"W200":0.25,"W100":0.2},{"d":59.9,"W600":0.5,"W200":0.28,"W100":0.22},{"d":60.4,"W600":0.65,"W200":0.35,"W100":0.28},{"d":60.8,"W600":0.8,"W200":0.45,"W100":0.35},{"d":61.2,"W600":1.1,"W200":0.6,"W100":0.45},{"d":61.5,"W600":1.25,"W200":0.8,"W100":0.5},{"d":61.8,"W600":1.4,"W200":0.85,"W100":0.6},{"d":62.1,"W600":1.5,"W200":1.1,"W100":0.7},{"d":62.3,"W600":1.85,"W200":1.4,"W100":0.8},{"d":62.5,"W600":1,"W200":0.85,"W100":0.6},{"d":62.8,"W600":0.9,"W200":0.6,"W100":0.5},{"d":63,"W600":1.2,"W200":0.5,"W100":0.45},{"d":63.3,"W600":0.6,"W200":0.35,"W100":0.3},{"d":63.7,"W600":0.4,"W200":0.25,"W100":0.2},{"d":64.2,"W600":0.3,"W200":0.18,"W100":0.15},{"d":64.7,"W600":0.27,"W200":0.15,"W100":0.12},{"d":65.2,"W600":0.26,"W200":0.14,"W100":0.12},{"d":65.7,"W600":0.3,"W200":0.15,"W100":0.13},{"d":66.2,"W600":0.35,"W200":0.18,"W100":0.15},{"d":66.4,"W600":0.85,"W200":0.3,"W100":0.2},{"d":66.6,"W600":0.45,"W200":0.2,"W100":0.17},{"d":67,"W600":0.35,"W200":0.15,"W100":0.13},{"d":67.5,"W600":0.32,"W200":0.14,"W100":0.12},{"d":68,"W600":0.3,"W200":0.13,"W100":0.11},{"d":68.5,"W600":0.33,"W200":0.15,"W100":0.12},{"d":69,"W600":0.31,"W200":0.13,"W100":0.11},{"d":69.5,"W600":0.34,"W200":0.15,"W100":0.13},{"d":70,"W600":0.32,"W200":0.17,"W100":0.14},{"d":70.5,"W600":0.35,"W200":0.18,"W100":0.15},{"d":71,"W600":0.33,"W200":0.2,"W100":0.16},{"d":71.5,"W600":0.36,"W200":0.22,"W100":0.17},{"d":72,"W600":0.35,"W200":0.2,"W100":0.16},{"d":72.5,"W600":0.38,"W200":0.25,"W100":0.2},{"d":73,"W600":0.45,"W200":0.3,"W100":0.25},{"d":73.3,"W600":0.6,"W200":0.35,"W100":0.3},{"d":73.6,"W600":0.85,"W200":0.4,"W100":0.45},{"d":73.9,"W600":0.55,"W200":0.45,"W100":0.35},{"d":74.3,"W600":0.5,"W200":0.5,"W100":0.3},{"d":74.7,"W600":0.55,"W200":0.35,"W100":0.28},{"d":75.1,"W600":0.5,"W200":0.3,"W100":0.25},{"d":75.5,"W600":0.6,"W200":0.28,"W100":0.24},{"d":75.7,"W600":0.75,"W200":0.3,"W100":0.25},{"d":76,"W600":0.5,"W200":0.28,"W100":0.23},{"d":76.5,"W600":0.48,"W200":0.25,"W100":0.22},{"d":77,"W600":0.45,"W200":0.27,"W100":0.22},{"d":77.5,"W600":0.47,"W200":0.25,"W100":0.2},{"d":78,"W600":0.45,"W200":0.3,"W100":0.22},{"d":78.5,"W600":0.5,"W200":0.33,"W100":0.25},{"d":79,"W600":0.48,"W200":0.38,"W100":0.28},{"d":79.5,"W600":0.5,"W200":0.42,"W100":0.3},{"d":80,"W600":0.52,"W200":0.55,"W100":0.32},{"d":80.4,"W600":0.55,"W200":0.7,"W100":0.35},{"d":80.8,"W600":0.5,"W200":0.78,"W100":0.38},{"d":81.2,"W600":0.52,"W200":0.65,"W100":0.35},{"d":81.6,"W600":0.55,"W200":0.6,"W100":0.33},{"d":82,"W600":0.5,"W200":0.55,"W100":0.3},{"d":82.5,"W600":0.52,"W200":0.5,"W100":0.3},{"d":83,"W600":0.5,"W200":0.45,"W100":0.28},{"d":83.5,"W600":0.53,"W200":0.4,"W100":0.3},{"d":84,"W600":0.5,"W200":0.38,"W100":0.28},{"d":84.5,"W600":0.55,"W200":0.35,"W100":0.27},{"d":85,"W600":0.57,"W200":0.33,"W100":0.28},{"d":85.5,"W600":0.55,"W200":0.32,"W100":0.3},{"d":86,"W600":0.6,"W200":0.3,"W100":0.28},{"d":86.5,"W600":0.6,"W200":0.32,"W100":0.38},{"d":87,"W600":0.55,"W200":0.28,"W100":0.25},{"d":87.5,"W600":0.5,"W200":0.25,"W100":0.22},{"d":88,"W600":0.45,"W200":0.22,"W100":0.2},{"d":88.5,"W600":0.4,"W200":0.2,"W100":0.17},{"d":89,"W600":0.36,"W200":0.18,"W100":0.15},{"d":89.5,"W600":0.33,"W200":0.16,"W100":0.13},{"d":90,"W600":0.3,"W200":0.15,"W100":0.12},{"d":90.5,"W600":0.32,"W200":0.14,"W100":0.12},{"d":91,"W600":0.3,"W200":0.13,"W100":0.11},{"d":91.5,"W600":0.5,"W200":0.15,"W100":0.12}],
"g":[{"d":0.33,"E600":0.03,"E100":0.05},{"d":0.67,"E600":0.06,"E100":0.12},{"d":1,"E600":0.02,"E100":0.04},{"d":1.33,"E600":0.13,"E100":0.3},{"d":1.67,"E600":0.03,"E100":0.08},{"d":2,"E600":0.05,"E100":0.15},{"d":2.33,"E600":0.02,"E100":0.04},{"d":2.67,"E600":0.08,"E100":0.22},{"d":3,"E600":0.03,"E100":0.06},{"d":3.33,"E600":0.06,"E100":0.18},{"d":3.67,"E600":0.02,"E100":0.05},{"d":4,"E600":0.04,"E100":0.2},{"d":4.33,"E600":0.02,"E100":0.07},{"d":4.67,"E600":0.07,"E100":0.25},{"d":5,"E600":0.03,"E100":0.05},{"d":5.33,"E600":0.05,"E100":0.28},{"d":5.67,"E600":0.02,"E100":0.08},{"d":6,"E600":0.06,"E100":0.17},{"d":6.33,"E600":0.03,"E100":0.04},{"d":6.67,"E600":0.04,"E100":0.22},{"d":7,"E600":0.02,"E100":0.06},{"d":7.33,"E600":0.05,"E100":0.19},{"d":7.67,"E600":0.02,"E100":0.05},{"d":8,"E600":0.06,"E100":0.21},{"d":8.33,"E600":0.03,"E100":0.07},{"d":8.67,"E600":0.07,"E100":0.15},{"d":9,"E600":0.04,"E100":0.05},{"d":9.33,"E600":0.12,"E100":0.24},{"d":9.67,"E600":0.05,"E100":0.1},{"d":10,"E600":0.18,"E100":0.26},{"d":10.33,"E600":0.08,"E100":0.12},{"d":10.67,"E600":0.25,"E100":0.35},{"d":10.83,"E600":0.4,"E100":0.48},{"d":11,"E600":0.1,"E100":0.1},{"d":11.33,"E600":0.2,"E100":0.25},{"d":11.67,"E600":0.06,"E100":0.08},{"d":12,"E600":0.31,"E100":0.18},{"d":12.33,"E600":0.04,"E100":0.05},{"d":12.67,"E600":0.15,"E100":0.22},{"d":13,"E600":0.03,"E100":0.06},{"d":13.33,"E600":0.35,"E100":0.2},{"d":13.67,"E600":0.05,"E100":0.04},{"d":14,"E600":0.12,"E100":0.17},{"d":14.33,"E600":0.03,"E100":0.06},{"d":14.67,"E600":0.33,"E100":0.26},{"d":15,"E600":0.04,"E100":0.05},{"d":15.33,"E600":0.15,"E100":0.2},{"d":15.67,"E600":0.03,"E100":0.08},{"d":16,"E600":0.1,"E100":0.24},{"d":16.33,"E600":0.02,"E100":0.03},{"d":16.67,"E600":0.18,"E100":0.22},{"d":17,"E600":0.04,"E100":0.06},{"d":17.33,"E600":0.08,"E100":0.18},{"d":17.67,"E600":0.02,"E100":0.04},{"d":18,"E600":0.12,"E100":0.2},{"d":18.33,"E600":0.03,"E100":0.05},{"d":18.67,"E600":0.07,"E100":0.15},{"d":19,"E600":0.02,"E100":0.04},{"d":19.33,"E600":0.1,"E100":0.19},{"d":19.67,"E600":0.03,"E100":0.06},{"d":20,"E600":0.06,"E100":0.27},{"d":20.33,"E600":0.02,"E100":0.05},{"d":20.67,"E600":0.14,"E100":0.17},{"d":21,"E600":0.03,"E100":0.03},{"d":21.33,"E600":0.2,"E100":0.16},{"d":21.67,"E600":0.04,"E100":0.05},{"d":22,"E600":0.09,"E100":0.18},{"d":22.33,"E600":0.02,"E100":0.04},{"d":22.67,"E600":0.12,"E100":0.15},{"d":23,"E600":0.03,"E100":0.06},{"d":23.33,"E600":0.08,"E100":0.17},{"d":23.67,"E600":0.02,"E100":0.04},{"d":24,"E600":0.11,"E100":0.19},{"d":24.33,"E600":0.04,"E100":0.05},{"d":24.67,"E600":0.14,"E100":0.16},{"d":25,"E600":0.03,"E100":0.06},{"d":25.33,"E600":0.1,"E100":0.2},{"d":25.67,"E600":0.05,"E100":0.07},{"d":26,"E600":0.22,"E100":0.29},{"d":26.33,"E600":0.06,"E100":0.1},{"d":26.67,"E600":0.2,"E100":0.45},{"d":27,"E600":0.05,"E100":0.08},{"d":27.33,"E600":0.18,"E100":0.16},{"d":27.67,"E600":0.04,"E100":0.05},{"d":28,"E600":0.12,"E100":0.09},{"d":28.33,"E600":0.03,"E100":0.02},{"d":28.67,"E600":0.15},{"d":29,"E600":0.02},{"d":29.33,"E600":0.1},{"d":29.67,"E600":0.03},{"d":30,"E600":0.14},{"d":30.33,"E600":0.02},{"d":30.67,"E600":0.08},{"d":31,"E600":0.03},{"d":31.33,"E600":0.17},{"d":31.67,"E600":0.02},{"d":32,"E600":0.12},{"d":32.33,"E600":0.04},{"d":32.67,"E600":0.29},{"d":33,"E600":0.03},{"d":33.33,"E600":0.13},{"d":33.67,"E600":0.02},{"d":34,"E600":0.22},{"d":34.33,"E600":0.04},{"d":34.67,"E600":0.1},{"d":35,"E600":0.03},{"d":35.33,"E600":0.2},{"d":35.67,"E600":0.05},{"d":36,"E600":0.12},{"d":36.33,"E600":0.02},{"d":36.67,"E600":0.18},{"d":37,"E600":0.03},{"d":37.33,"E600":0.09},{"d":37.67,"E600":0.02},{"d":38,"E600":0.23},{"d":38.33,"E600":0.04},{"d":38.67,"E600":0.11},{"d":39,"E600":0.02},{"d":39.33,"E600":0.14},{"d":39.67,"E600":0.03},{"d":40,"E600":0.07},{"d":40.33,"E600":0.02},{"d":40.67,"E600":0.1},{"d":41,"E600":0.03},{"d":41.33,"E600":0.06},{"d":41.67,"E600":0.02},{"d":42,"E600":0.19},{"d":42.33,"E600":0.03},{"d":42.67,"E600":0.08},{"d":43,"E600":0.02},{"d":43.33,"E600":0.12},{"d":43.67,"E600":0.03},{"d":44,"E600":0.14},{"d":44.33,"E600":0.02},{"d":44.67,"E600":0.1},{"d":45,"E600":0.04},{"d":45.33,"E600":0.13},{"d":45.67,"E600":0.02},{"d":46,"E600":0.08},{"d":46.33,"E600":0.03},{"d":46.67,"E600":0.15},{"d":47,"E600":0.02},{"d":47.33,"E600":0.11},{"d":47.67,"E600":0.03},{"d":48,"E600":0.18},{"d":48.33,"E600":0.02},{"d":48.67,"E600":0.2},{"d":49,"E600":0.04},{"d":49.33,"E600":0.09},{"d":49.67,"E600":0.02},{"d":50,"E600":0.13},{"d":50.33,"E600":0.03},{"d":50.67,"E600":0.07},{"d":51,"E600":0.02},{"d":51.33,"E600":0.2},{"d":51.67,"E600":0.04},{"d":52,"E600":0.1},{"d":52.33,"E600":0.02},{"d":52.67,"E600":0.06},{"d":53,"E600":0.03},{"d":53.33,"E600":0.09},{"d":53.67,"E600":0.02},{"d":54,"E600":0.05},{"d":54.33,"E600":0.03},{"d":54.67,"E600":0.08},{"d":55,"E600":0.02},{"d":55.33,"E600":0.11},{"d":55.67,"E600":0.03},{"d":56,"E600":0.15},{"d":56.33,"E600":0.02},{"d":56.67,"E600":0.1},{"d":57,"E600":0.04},{"d":57.33,"E600":0.13},{"d":57.67,"E600":0.02},{"d":58,"E600":0.09},{"d":58.33,"E600":0.04},{"d":58.67,"E600":0.17},{"d":59,"E600":0.05},{"d":59.33,"E600":0.1},{"d":59.67,"E600":0.04},{"d":60,"E600":0.19},{"d":60.33,"E600":0.06},{"d":60.67,"E600":0.14},{"d":61,"E600":0.07},{"d":61.33,"E600":0.22},{"d":61.67,"E600":0.09},{"d":62,"E600":0.3},{"d":62.33,"E600":0.12},{"d":62.67,"E600":0.4},{"d":63,"E600":0.45},{"d":63.17,"E600":0.15},{"d":63.33,"E600":0.38},{"d":63.67,"E600":0.1},{"d":64,"E600":0.23},{"d":64.33,"E600":0.05},{"d":64.67,"E600":0.16},{"d":65,"E600":0.03},{"d":65.33,"E600":0.23},{"d":65.67,"E600":0.04},{"d":66,"E600":0.12},{"d":66.33,"E600":0.03},{"d":66.67,"E600":0.15},{"d":67,"E600":0.02},{"d":67.33,"E600":0.1},{"d":67.67,"E600":0.04},{"d":68,"E600":0.2},{"d":68.33,"E600":0.03},{"d":68.67,"E600":0.11},{"d":69,"E600":0.02},{"d":69.33,"E600":0.08},{"d":69.67,"E600":0.03},{"d":70,"E600":0.13},{"d":70.33,"E600":0.02},{"d":70.67,"E600":0.1},{"d":71,"E600":0.04},{"d":71.33,"E600":0.15},{"d":71.67,"E600":0.03},{"d":72,"E600":0.22},{"d":72.33,"E600":0.04},{"d":72.67,"E600":0.12},{"d":73,"E600":0.03},{"d":73.33,"E600":0.18},{"d":73.67,"E600":0.05},{"d":74,"E600":0.1},{"d":74.33,"E600":0.03},{"d":74.67,"E600":0.14},{"d":75,"E600":0.04},{"d":75.33,"E600":0.11},{"d":75.67,"E600":0.02},{"d":76,"E600":0.16},{"d":76.33,"E600":0.04},{"d":76.67,"E600":0.09},{"d":77,"E600":0.03},{"d":77.33,"E600":0.13},{"d":77.67,"E600":0.05},{"d":78,"E600":0.22},{"d":78.33,"E600":0.03},{"d":78.67,"E600":0.12},{"d":79,"E600":0.05},{"d":79.33,"E600":0.15},{"d":79.67,"E600":0.04},{"d":80,"E600":0.11},{"d":80.33,"E600":0.05},{"d":80.67,"E600":0.14},{"d":81,"E600":0.04},{"d":81.33,"E600":0.1},{"d":81.67,"E600":0.06},{"d":82,"E600":0.13},{"d":82.33,"E600":0.04},{"d":82.67,"E600":0.12},{"d":83,"E600":0.05},{"d":83.33,"E600":0.09},{"d":83.67,"E600":0.03},{"d":84,"E600":0.16},{"d":84.33,"E600":0.05},{"d":84.67,"E600":0.12},{"d":85,"E600":0.04},{"d":85.33,"E600":0.17},{"d":85.67,"E600":0.06},{"d":86,"E600":0.1},{"d":86.33,"E600":0.04},{"d":86.67,"E600":0.14},{"d":87,"E600":0.05},{"d":87.33,"E600":0.18},{"d":87.67,"E600":0.06},{"d":88,"E600":0.12},{"d":88.33,"E600":0.04},{"d":88.67,"E600":0.16},{"d":89,"E600":0.05},{"d":89.33,"E600":0.24},{"d":89.67,"E600":0.06},{"d":90,"E600":0.15},{"d":90.33,"E600":0.04},{"d":90.67,"E600":0.12},{"d":91,"E600":0.03},{"d":91.33,"E600":0.21},{"d":91.67,"E600":0.05}],
"k":[{"d":0.33,"W600":0.02,"W100":0.04},{"d":0.67,"W600":0.05,"W100":0.1},{"d":1,"W600":0.01,"W100":0.03},{"d":1.33,"W600":0.04,"W100":0.14},{"d":1.67,"W600":0.02,"W100":0.06},{"d":2,"W600":0.05,"W100":0.22},{"d":2.33,"W600":0.01,"W100":0.04},{"d":2.67,"W600":0.06,"W100":0.15},{"d":3,"W600":0.02,"W100":0.05},{"d":3.33,"W600":0.04,"W100":0.2},{"d":3.67,"W600":0.01,"W100":0.06},{"d":4,"W600":0.05,"W100":0.14},{"d":4.33,"W600":0.02,"W100":0.05},{"d":4.67,"W600":0.07,"W100":0.26},{"d":5,"W600":0.02,"W100":0.07},{"d":5.33,"W600":0.05,"W100":0.18},{"d":5.67,"W600":0.01,"W100":0.04},{"d":6,"W600":0.06,"W100":0.2},{"d":6.33,"W600":0.02,"W100":0.06},{"d":6.67,"W600":0.04,"W100":0.16},{"d":7,"W600":0.01,"W100":0.05},{"d":7.33,"W600":0.05,"W100":0.19},{"d":7.67,"W600":0.02,"W100":0.04},{"d":8,"W600":0.04,"W100":0.12},{"d":8.33,"W600":0.01,"W100":0.03},{"d":8.67,"W600":0.06,"W100":0.1},{"d":9,"W600":0.02,"W100":0.04},{"d":9.33,"W600":0.05,"W100":0.08},{"d":9.67,"W600":0.03,"W100":0.05},{"d":10,"W600":0.08,"W100":0.15},{"d":10.33,"W600":0.03,"W100":0.1},{"d":10.6,"W600":0.07,"W100":0.31},{"d":10.83,"W600":0.04,"W100":0.2},{"d":11,"W600":0.06,"W100":0.18},{"d":11.33,"W600":0.02,"W100":0.08},{"d":11.67,"W600":0.05,"W100":0.17},{"d":12,"W600":0.02,"W100":0.06},{"d":12.33,"W600":0.07,"W100":0.16},{"d":12.67,"W600":0.03,"W100":0.05},{"d":13,"W600":0.12,"W100":0.13},{"d":13.33,"W600":0.02,"W100":0.04},{"d":13.67,"W600":0.06,"W100":0.23},{"d":14,"W600":0.03,"W100":0.07},{"d":14.33,"W600":0.08,"W100":0.22},{"d":14.67,"W600":0.02,"W100":0.05},{"d":15,"W600":0.05,"W100":0.18},{"d":15.33,"W600":0.02,"W100":0.06},{"d":15.67,"W600":0.06,"W100":0.14},{"d":16,"W600":0.03,"W100":0.04},{"d":16.33,"W600":0.05,"W100":0.15},{"d":16.67,"W600":0.02,"W100":0.05},{"d":17,"W600":0.04,"W100":0.12},{"d":17.33,"W600":0.01,"W100":0.04},{"d":17.67,"W600":0.05,"W100":0.14},{"d":18,"W600":0.02,"W100":0.06},{"d":18.33,"W600":0.04,"W100":0.12},{"d":18.67,"W600":0.02,"W100":0.05},{"d":19,"W600":0.05,"W100":0.1},{"d":19.33,"W600":0.02,"W100":0.04},{"d":19.67,"W600":0.06,"W100":0.19},{"d":20,"W600":0.02,"W100":0.06},{"d":20.33,"W600":0.04,"W100":0.12},{"d":20.67,"W600":0.02,"W100":0.05},{"d":21,"W600":0.05,"W100":0.1},{"d":21.33,"W600":0.01,"W100":0.04},{"d":21.67,"W600":0.04,"W100":0.11},{"d":22,"W600":0.02,"W100":0.05},{"d":22.33,"W600":0.05,"W100":0.1},{"d":22.67,"W600":0.02,"W100":0.04},{"d":23,"W600":0.04,"W100":0.11},{"d":23.33,"W600":0.02,"W100":0.05},{"d":23.67,"W600":0.05,"W100":0.09},{"d":24,"W600":0.02,"W100":0.04},{"d":24.33,"W600":0.04,"W100":0.1},{"d":24.67,"W600":0.02,"W100":0.05},{"d":25,"W600":0.05,"W100":0.11},{"d":25.33,"W600":0.03,"W100":0.06},{"d":25.67,"W600":0.06,"W100":0.12},{"d":26,"W600":0.04,"W100":0.08},{"d":26.33,"W600":0.09,"W100":0.14},{"d":26.5,"W600":0.07,"W100":0.3},{"d":26.67,"W600":0.05,"W100":0.12},{"d":27,"W600":0.03,"W100":0.04},{"d":27.33,"W600":0.05,"W100":0.02},{"d":27.67,"W600":0.02,"W100":0.05},{"d":28,"W600":0.04,"W100":0.03},{"d":28.33,"W600":0.01,"W100":0.07},{"d":28.67,"W600":0.05,"W100":0.02},{"d":29,"W600":0.02,"W100":0.06},{"d":29.33,"W600":0.04,"W100":0.1},{"d":29.67,"W600":0.02,"W100":0.04},{"d":30,"W600":0.06,"W100":0.09},{"d":30.33,"W600":0.02,"W100":0.03},{"d":30.67,"W600":0.05,"W100":0.08},{"d":31,"W600":0.03,"W100":0.04},{"d":31.33,"W600":0.05,"W100":0.1},{"d":31.67,"W600":0.02,"W100":0.05},{"d":32,"W600":0.07,"W100":0.06},{"d":32.33,"W600":0.03,"W100":0.04},{"d":32.67,"W600":0.14,"W100":0.1},{"d":33,"W600":0.04,"W100":0.05},{"d":33.33,"W600":0.06,"W100":0.09},{"d":33.67,"W600":0.02,"W100":0.04},{"d":34,"W600":0.05,"W100":0.1},{"d":34.33,"W600":0.02,"W100":0.05},{"d":34.67,"W600":0.04,"W100":0.08},{"d":35,"W600":0.01,"W100":0.03},{"d":35.33,"W600":0.03,"W100":0.07},{"d":35.67,"W600":0.01,"W100":0.04},{"d":36,"W600":0.04,"W100":0.06},{"d":36.33,"W600":0.02,"W100":0.03},{"d":36.67,"W600":0.03},{"d":37,"W600":0.01},{"d":37.33,"W600":0.02},{"d":37.67,"W600":0.005},{"d":38,"W600":0.03},{"d":38.33,"W600":0.01},{"d":38.67,"W600":0.02},{"d":39,"W600":0.01},{"d":39.33,"W600":0.04},{"d":39.67,"W600":0.01},{"d":40,"W600":0.03},{"d":40.33,"W600":0.02},{"d":40.67,"W600":0.06},{"d":41,"W600":0.02},{"d":41.33,"W600":0.04},{"d":41.67,"W600":0.01},{"d":42,"W600":0.05},{"d":42.33,"W600":0.02},{"d":42.67,"W600":0.07},{"d":43,"W600":0.02},{"d":43.33,"W600":0.05},{"d":43.67,"W600":0.01},{"d":44,"W600":0.06},{"d":44.33,"W600":0.02},{"d":44.67,"W600":0.04},{"d":45,"W600":0.01},{"d":45.33,"W600":0.05},{"d":45.67,"W600":0.02},{"d":46,"W600":0.07},{"d":46.33,"W600":0.02},{"d":46.67,"W600":0.04},{"d":47,"W600":0.01},{"d":47.33,"W600":0.05},{"d":47.67,"W600":0.02},{"d":48,"W600":0.06},{"d":48.33,"W600":0.01},{"d":48.67,"W600":0.04},{"d":49,"W600":0.02},{"d":49.33,"W600":0.05},{"d":49.67,"W600":0.01},{"d":50,"W600":0.04},{"d":50.33,"W600":0.02},{"d":50.67,"W600":0.05},{"d":51,"W600":0.01},{"d":51.33,"W600":0.04},{"d":51.67,"W600":0.02},{"d":52,"W600":0.05},{"d":52.33,"W600":0.01},{"d":52.67,"W600":0.04},{"d":53,"W600":0.02},{"d":53.33,"W600":0.05},{"d":53.67,"W600":0.01},{"d":54,"W600":0.03},{"d":54.33,"W600":0.02},{"d":54.67,"W600":0.05},{"d":55,"W600":0.01},{"d":55.33,"W600":0.04},{"d":55.67,"W600":0.02},{"d":56,"W600":0.05},{"d":56.33,"W600":0.01},{"d":56.67,"W600":0.04},{"d":57,"W600":0.02},{"d":57.33,"W600":0.06},{"d":57.67,"W600":0.01},{"d":58,"W600":0.04},{"d":58.33,"W600":0.02},{"d":58.67,"W600":0.05},{"d":59,"W600":0.02},{"d":59.33,"W600":0.06},{"d":59.67,"W600":0.02},{"d":60,"W600":0.07},{"d":60.33,"W600":0.03},{"d":60.67,"W600":0.05},{"d":61,"W600":0.02},{"d":61.33,"W600":0.06},{"d":61.67,"W600":0.03},{"d":62,"W600":0.08},{"d":62.33,"W600":0.02},{"d":62.67,"W600":0.05},{"d":63,"W600":0.03},{"d":63.2,"W600":0.16},{"d":63.33,"W600":0.02},{"d":63.67,"W600":0.06},{"d":64,"W600":0.02},{"d":64.33,"W600":0.08},{"d":64.67,"W600":0.02},{"d":65,"W600":0.05},{"d":65.33,"W600":0.01},{"d":65.67,"W600":0.06},{"d":66,"W600":0.02},{"d":66.33,"W600":0.04},{"d":66.67,"W600":0.01},{"d":67,"W600":0.05},{"d":67.33,"W600":0.02},{"d":67.67,"W600":0.04},{"d":68,"W600":0.01},{"d":68.33,"W600":0.03},{"d":68.67,"W600":0.02},{"d":69,"W600":0.05},{"d":69.33,"W600":0.01},{"d":69.67,"W600":0.04},{"d":70,"W600":0.02},{"d":70.33,"W600":0.05},{"d":70.67,"W600":0.01},{"d":71,"W600":0.04},{"d":71.33,"W600":0.02},{"d":71.67,"W600":0.05},{"d":72,"W600":0.01},{"d":72.33,"W600":0.04},{"d":72.67,"W600":0.02},{"d":73,"W600":0.05},{"d":73.33,"W600":0.01},{"d":73.67,"W600":0.03},{"d":74,"W600":0.02},{"d":74.33,"W600":0.04},{"d":74.67,"W600":0.01},{"d":75,"W600":0.03},{"d":75.33,"W600":0.02},{"d":75.67,"W600":0.04},{"d":76,"W600":0.01},{"d":76.33,"W600":0.03},{"d":76.67,"W600":0.02},{"d":77,"W600":0.04},{"d":77.33,"W600":0.01},{"d":77.67,"W600":0.03},{"d":78,"W600":0.02},{"d":78.33,"W600":0.04},{"d":78.67,"W600":0.01},{"d":79,"W600":0.03},{"d":79.33,"W600":0.02},{"d":79.67,"W600":0.04},{"d":80,"W600":0.01},{"d":80.33,"W600":0.03},{"d":80.67,"W600":0.02},{"d":81,"W600":0.04},{"d":81.33,"W600":0.01},{"d":81.67,"W600":0.03},{"d":82,"W600":0.02},{"d":82.33,"W600":0.05},{"d":82.67,"W600":0.01},{"d":83,"W600":0.03},{"d":83.33,"W600":0.02},{"d":83.67,"W600":0.04},{"d":84,"W600":0.01},{"d":84.33,"W600":0.04},{"d":84.67,"W600":0.02},{"d":85,"W600":0.05},{"d":85.33,"W600":0.01},{"d":85.67,"W600":0.03},{"d":86,"W600":0.02},{"d":86.33,"W600":0.04},{"d":86.67,"W600":0.02},{"d":87,"W600":0.05},{"d":87.33,"W600":0.02},{"d":87.67,"W600":0.06},{"d":88,"W600":0.02},{"d":88.33,"W600":0.05},{"d":88.67,"W600":0.03},{"d":89,"W600":0.08},{"d":89.33,"W600":0.02},{"d":89.67,"W600":0.09},{"d":90,"W600":0.03},{"d":90.33,"W600":0.07},{"d":90.67,"W600":0.02},{"d":91,"W600":0.1},{"d":91.33,"W600":0.03},{"d":91.67,"W600":0.1}]
},
"vconcat":[
{"width":536,"height":110,
 "title":{"text":"GPV　有義波高(鳩間島北方)","offset":-0.5},
 "resolve":{"axis":{"y":"independent"}},
 "encoding":{"x":{"field":"d","type":"quantitative","scale":{"domain":[0,91.7],"nice":false,"zero":false},"axis":{"values":[0,1,2,3,4,5,6,7,8,9,10,11,12,13,14,15,16,17,18,19,20,21,22,23,24,25,26,27,28,29,30,31,32,33,34,35,36,37,38,39,40,41,42,43,44,45,46,47,48,49,50,51,52,53,54,55,56,57,58,59,60,61,62,63,64,65,66,67,68,69,70,71,72,73,74,75,76,77,78,79,80,81,82,83,84,85,86,87,88,89,90,91],"labels":false,"title":null,"tickSize":4,"gridColor":{"condition":{"test":"datum.value % 7 === 0","value":"#a89e96"},"value":"#e8d0d0"},"tickOpacity":{"condition":{"test":"datum.value % 7 === 0","value":1},"value":0}}}},
 "layer":[
  {"data":{"name":"h"},"mark":{"type":"line","color":"#000","strokeWidth":0.8},
   "encoding":{"y":{"field":"v","type":"quantitative","title":"H₁/₃(m)","scale":{"domain":[0,10],"nice":false,"zero":false},"axis":{"values":[0,2,4,6,8,10],"format":"d","labelOverlap":false,"tickSize":4,"titlePadding":10,"gridColor":"#a89e96","zindex":0}}}},
  {"data":{"name":"ty"},"mark":{"type":"point","shape":"M-0.3,-1H0.3V0H0.8L0,1L-0.8,0H-0.3Z","filled":true,"fill":"#4f81bd","stroke":"#3b6796","strokeWidth":0.6,"size":169,"opacity":1,"yOffset":-1.5},
   "encoding":{"y":{"datum":10,"type":"quantitative","axis":{"orient":"right","values":[0.4,0.8,1.2,1.6,2.4,2.8,3.2,3.6,4.4,4.8,5.2,5.6,6.4,6.8,7.2,7.6,8.4,8.8,9.2,9.6],"labels":false,"ticks":false,"domain":false,"title":null,"grid":true,"gridColor":"#e8d0d0","zindex":0}}}},
  {"data":{"name":"ty"},"mark":{"type":"point","shape":"M-1,-0.42H1V0.42H-1Z","filled":true,"fill":"#ffffff","stroke":"#595959","strokeWidth":1,"size":2209,"opacity":1,"xOffset":32,"yOffset":0.5},
   "encoding":{"y":{"datum":10,"type":"quantitative","axis":null}}},
  {"data":{"name":"ty"},"mark":{"type":"text","dx":32,"dy":1,"font":"Noto Sans CJK JP","fontSize":13,"color":"#000"},
   "encoding":{"y":{"datum":10,"type":"quantitative","axis":null},"text":{"field":"n"}}}
 ]},
{"width":536,"height":109,
 "title":{"text":"GPV　波向","offset":5},
 "data":{"name":"w"},
 "mark":{"type":"line","color":"#000","strokeWidth":0.8},
 "encoding":{"x":{"field":"d","type":"quantitative","scale":{"domain":[0,91.7],"nice":false,"zero":false},"axis":{"values":[0,1,2,3,4,5,6,7,8,9,10,11,12,13,14,15,16,17,18,19,20,21,22,23,24,25,26,27,28,29,30,31,32,33,34,35,36,37,38,39,40,41,42,43,44,45,46,47,48,49,50,51,52,53,54,55,56,57,58,59,60,61,62,63,64,65,66,67,68,69,70,71,72,73,74,75,76,77,78,79,80,81,82,83,84,85,86,87,88,89,90,91],"labels":false,"title":null,"tickSize":4,"gridColor":{"condition":{"test":"datum.value % 7 === 0","value":"#a89e96"},"value":"#e8d0d0"},"tickOpacity":{"condition":{"test":"datum.value % 7 === 0","value":1},"value":0}}},
  "y":{"field":"v","type":"quantitative","title":"方向(deg)","scale":{"domain":[0,360],"nice":false,"zero":false},"axis":{"values":[0,18,36,54,72,90,108,126,144,162,180,198,216,234,252,270,288,306,324,342,360],"format":"d","labelOverlap":false,"labelExpr":"datum.value % 90 === 0 ? datum.label : ''","tickSize":4,"titlePadding":4,"gridColor":{"condition":{"test":"datum.value % 90 === 0","value":"#a89e96"},"value":"#e8d0d0"},"tickOpacity":{"condition":{"test":"datum.value % 90 === 0","value":1},"value":0}}}}},
{"width":536,"height":116,
 "title":{"text":"水位変動(E600)","offset":-4},
 "data":{"name":"t"},
 "mark":{"type":"line","color":"#000","strokeWidth":0.9},
 "encoding":{"x":{"field":"d","type":"quantitative","scale":{"domain":[0,91.7],"nice":false,"zero":false},"axis":{"values":[0,1,2,3,4,5,6,7,8,9,10,11,12,13,14,15,16,17,18,19,20,21,22,23,24,25,26,27,28,29,30,31,32,33,34,35,36,37,38,39,40,41,42,43,44,45,46,47,48,49,50,51,52,53,54,55,56,57,58,59,60,61,62,63,64,65,66,67,68,69,70,71,72,73,74,75,76,77,78,79,80,81,82,83,84,85,86,87,88,89,90,91],"labels":false,"title":null,"tickSize":4,"gridColor":{"condition":{"test":"datum.value % 7 === 0","value":"#a89e96"},"value":"#e8d0d0"},"tickOpacity":{"condition":{"test":"datum.value % 7 === 0","value":1},"value":0}}},
  "y":{"field":"v","type":"quantitative","title":"水深(m)","scale":{"domain":[8,11],"nice":false,"zero":false},"axis":{"values":[8,8.1,8.2,8.3,8.4,8.5,8.6,8.7,8.8,8.9,9,9.1,9.2,9.3,9.4,9.5,9.6,9.7,9.8,9.9,10,10.1,10.2,10.3,10.4,10.5,10.6,10.7,10.8,10.9,11],"format":".1f","labelOverlap":false,"labelExpr":"round(datum.value*10) % 5 === 0 ? datum.label : ''","tickSize":4,"titlePadding":5,"gridColor":{"condition":{"test":"round(datum.value*10) % 5 === 0","value":"#a89e96"},"value":"#e8d0d0"},"tickOpacity":{"condition":{"test":"round(datum.value*10) % 5 === 0","value":1},"value":0}}}}},
{"width":536,"height":110,
 "title":{"text":"バラス島東側　有義波高","offset":5},
 "data":{"name":"e"},
 "transform":[{"fold":["E600","E200","E100"],"as":["s","v"]}],
 "mark":{"type":"line","strokeWidth":0.8},
 "encoding":{"x":{"field":"d","type":"quantitative","scale":{"domain":[0,91.7],"nice":false,"zero":false},"axis":{"values":[0,1,2,3,4,5,6,7,8,9,10,11,12,13,14,15,16,17,18,19,20,21,22,23,24,25,26,27,28,29,30,31,32,33,34,35,36,37,38,39,40,41,42,43,44,45,46,47,48,49,50,51,52,53,54,55,56,57,58,59,60,61,62,63,64,65,66,67,68,69,70,71,72,73,74,75,76,77,78,79,80,81,82,83,84,85,86,87,88,89,90,91],"labels":false,"title":null,"tickSize":4,"gridColor":{"condition":{"test":"datum.value % 7 === 0","value":"#a89e96"},"value":"#e8d0d0"},"tickOpacity":{"condition":{"test":"datum.value % 7 === 0","value":1},"value":0}}},
  "y":{"field":"v","type":"quantitative","title":"H₁/₃(m)","scale":{"domain":[0,3],"nice":false,"zero":false},"axis":{"values":[0,0.1,0.2,0.3,0.4,0.5,0.6,0.7,0.8,0.9,1,1.1,1.2,1.3,1.4,1.5,1.6,1.7,1.8,1.9,2,2.1,2.2,2.3,2.4,2.5,2.6,2.7,2.8,2.9,3],"format":".1f","labelOverlap":false,"labelExpr":"round(datum.value*10) % 5 === 0 ? datum.label : ''","tickSize":4,"titlePadding":9,"gridColor":{"condition":{"test":"round(datum.value*10) % 5 === 0","value":"#a89e96"},"value":"#e8d0d0"},"tickOpacity":{"condition":{"test":"round(datum.value*10) % 5 === 0","value":1},"value":0}}},
  "color":{"field":"s","type":"nominal","scale":{"domain":["E600","E200","E100"],"range":["#000000","#0000ff","#ff0000"]},"legend":{"legendX":331,"legendY":2}}}},
{"width":536,"height":114,
 "title":{"text":"バラス島西側　有義波高","offset":-4},
 "data":{"name":"f"},
 "transform":[{"fold":["W600","W200","W100"],"as":["s","v"]}],
 "mark":{"type":"line","strokeWidth":0.8},
 "encoding":{"x":{"field":"d","type":"quantitative","scale":{"domain":[0,91.7],"nice":false,"zero":false},"axis":{"values":[0,1,2,3,4,5,6,7,8,9,10,11,12,13,14,15,16,17,18,19,20,21,22,23,24,25,26,27,28,29,30,31,32,33,34,35,36,37,38,39,40,41,42,43,44,45,46,47,48,49,50,51,52,53,54,55,56,57,58,59,60,61,62,63,64,65,66,67,68,69,70,71,72,73,74,75,76,77,78,79,80,81,82,83,84,85,86,87,88,89,90,91],"labels":false,"title":null,"tickSize":4,"gridColor":{"condition":{"test":"datum.value % 7 === 0","value":"#a89e96"},"value":"#e8d0d0"},"tickOpacity":{"condition":{"test":"datum.value % 7 === 0","value":1},"value":0}}},
  "y":{"field":"v","type":"quantitative","title":"H₁/₃(m)","scale":{"domain":[0,3],"nice":false,"zero":false},"axis":{"values":[0,0.1,0.2,0.3,0.4,0.5,0.6,0.7,0.8,0.9,1,1.1,1.2,1.3,1.4,1.5,1.6,1.7,1.8,1.9,2,2.1,2.2,2.3,2.4,2.5,2.6,2.7,2.8,2.9,3],"format":".1f","labelOverlap":false,"labelExpr":"round(datum.value*10) % 5 === 0 ? datum.label : ''","tickSize":4,"titlePadding":9,"gridColor":{"condition":{"test":"round(datum.value*10) % 5 === 0","value":"#a89e96"},"value":"#e8d0d0"},"tickOpacity":{"condition":{"test":"round(datum.value*10) % 5 === 0","value":1},"value":0}}},
  "color":{"field":"s","type":"nominal","scale":{"domain":["W600","W200","W100"],"range":["#000000","#0000ff","#ff0000"]},"legend":{"legendX":331,"legendY":3}}}},
{"width":536,"height":117,
 "title":{"text":"バラス島東側　平均流速","offset":-2},
 "data":{"name":"g"},
 "transform":[{"fold":["E600","E100"],"as":["s","v"]}],
 "mark":{"type":"line","strokeWidth":0.8},
 "encoding":{"x":{"field":"d","type":"quantitative","scale":{"domain":[0,91.7],"nice":false,"zero":false},"axis":{"values":[0,1,2,3,4,5,6,7,8,9,10,11,12,13,14,15,16,17,18,19,20,21,22,23,24,25,26,27,28,29,30,31,32,33,34,35,36,37,38,39,40,41,42,43,44,45,46,47,48,49,50,51,52,53,54,55,56,57,58,59,60,61,62,63,64,65,66,67,68,69,70,71,72,73,74,75,76,77,78,79,80,81,82,83,84,85,86,87,88,89,90,91],"labels":false,"title":null,"tickSize":4,"gridColor":{"condition":{"test":"datum.value % 7 === 0","value":"#a89e96"},"value":"#d2cbc5"},"tickOpacity":{"condition":{"test":"datum.value % 7 === 0","value":1},"value":0}}},
  "y":{"field":"v","type":"quantitative","title":"流速(m/s)","scale":{"domain":[0,0.5],"nice":false,"zero":false},"axis":{"values":[0,0.1,0.2,0.3,0.4,0.5],"format":".1f","labelOverlap":false,"tickSize":4,"titlePadding":7,"gridColor":"#a89e96"}},
  "color":{"field":"s","type":"nominal","scale":{"domain":["E600","E100"],"range":["#000000","#ff0000"]},"legend":{"legendX":387,"legendY":2}}}},
{"width":536,"height":112,
 "title":{"text":"バラス島西側　平均流速","offset":-2},
 "data":{"name":"k"},
 "transform":[{"fold":["W600","W100"],"as":["s","v"]}],
 "mark":{"type":"line","strokeWidth":0.8},
 "encoding":{"x":{"field":"d","type":"quantitative","scale":{"domain":[0,91.7],"nice":false,"zero":false},"axis":{"values":[0,1,2,3,4,5,6,7,8,9,10,11,12,13,14,15,16,17,18,19,20,21,22,23,24,25,26,27,28,29,30,31,32,33,34,35,36,37,38,39,40,41,42,43,44,45,46,47,48,49,50,51,52,53,54,55,56,57,58,59,60,61,62,63,64,65,66,67,68,69,70,71,72,73,74,75,76,77,78,79,80,81,82,83,84,85,86,87,88,89,90,91],"labelExpr":"datum.value % 7 === 0 ? timeFormat(datetime(2013, 6, 28 + datum.value), '%-m/%-d') : ''","labelFontSize":11,"labelPadding":4,"title":null,"tickSize":4,"gridColor":{"condition":{"test":"datum.value % 7 === 0","value":"#a89e96"},"value":"#d2cbc5"},"tickOpacity":{"condition":{"test":"datum.value % 7 === 0","value":1},"value":0}}},
  "y":{"field":"v","type":"quantitative","title":"流速(m/s)","scale":{"domain":[0,0.5],"nice":false,"zero":false},"axis":{"values":[0,0.1,0.2,0.3,0.4,0.5],"format":".1f","labelOverlap":false,"tickSize":4,"titlePadding":7,"gridColor":"#a89e96"}},
  "color":{"field":"s","type":"nominal","scale":{"domain":["W600","W100"],"range":["#000000","#ff0000"]},"legend":{"legendX":387,"legendY":6}}}}
]
}
